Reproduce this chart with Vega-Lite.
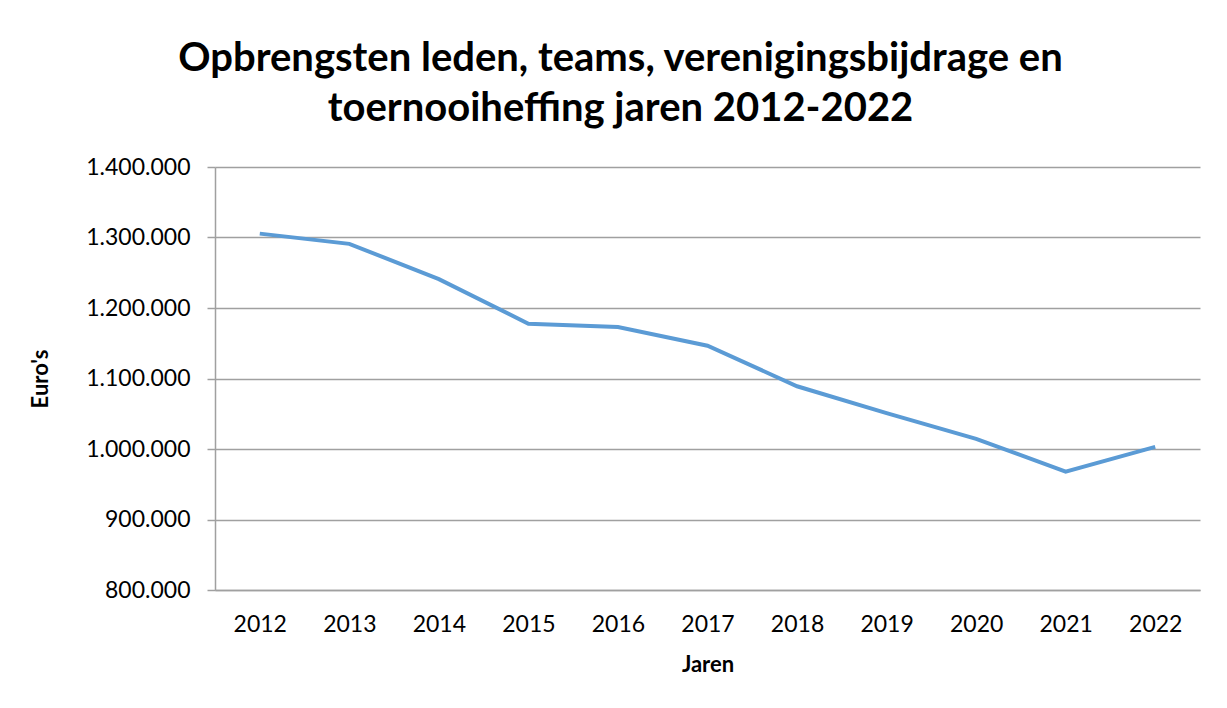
{
  "$schema": "https://vega.github.io/schema/vega-lite/v6.json",
  "width": 985,
  "height": 423,
  "autosize": {"type": "none"},
  "padding": {"left": 215, "top": 167, "right": 27, "bottom": 118},
  "background": "white",
  "title": {
    "text": ["Opbrengsten leden, teams, verenigingsbijdrage en", "toernooiheffing jaren 2012-2022"],
    "font": "Lato",
    "fontSize": 40,
    "fontWeight": "bold",
    "lineHeight": 50,
    "color": "#000000",
    "anchor": "middle",
    "frame": "group",
    "dx": -87,
    "offset": 27
  },
  "data": {
    "values": [
      {"jaar": "2012", "euro": 1305500},
      {"jaar": "2013", "euro": 1291000},
      {"jaar": "2014", "euro": 1241000},
      {"jaar": "2015", "euro": 1177700},
      {"jaar": "2016", "euro": 1173000},
      {"jaar": "2017", "euro": 1146500},
      {"jaar": "2018", "euro": 1089000},
      {"jaar": "2019", "euro": 1051000},
      {"jaar": "2020", "euro": 1014500},
      {"jaar": "2021", "euro": 968000},
      {"jaar": "2022", "euro": 1003000}
    ]
  },
  "mark": {"type": "line", "color": "#5B9BD5", "strokeWidth": 4, "strokeJoin": "miter", "strokeCap": "butt"},
  "encoding": {
    "x": {
      "field": "jaar",
      "type": "ordinal",
      "scale": {"type": "point", "padding": 0.5},
      "axis": {
        "title": "Jaren",
        "titleFont": "Lato",
        "titleFontSize": 22,
        "titleFontWeight": "bold",
        "titleColor": "#000000",
        "titlePadding": 18,
        "labelFont": "Lato",
        "labelFontSize": 23,
        "labelColor": "#000000",
        "labelAngle": 0,
        "labelPadding": 23,
        "ticks": false,
        "grid": false,
        "domainColor": "#a0a0a0",
        "domainWidth": 1.5
      }
    },
    "y": {
      "field": "euro",
      "type": "quantitative",
      "scale": {"domain": [800000, 1400000], "nice": false, "zero": false},
      "axis": {
        "title": "Euro's",
        "titleFont": "Lato",
        "titleFontSize": 22,
        "titleFontWeight": "bold",
        "titleColor": "#000000",
        "titlePadding": 33,
        "values": [800000, 900000, 1000000, 1100000, 1200000, 1300000, 1400000],
        "format": ",d",
        "labelFont": "Lato",
        "labelFontSize": 23,
        "labelColor": "#000000",
        "labelPadding": 17,
        "tickSize": 8,
        "tickColor": "#a0a0a0",
        "tickWidth": 1.5,
        "grid": true,
        "gridColor": "#a0a0a0",
        "gridWidth": 1.5,
        "domainColor": "#a0a0a0",
        "domainWidth": 1.5
      }
    }
  },
  "config": {
    "view": {"stroke": null},
    "locale": {
      "number": {"decimal": ",", "thousands": ".", "grouping": [3], "currency": ["€", ""]}
    }
  }
}
